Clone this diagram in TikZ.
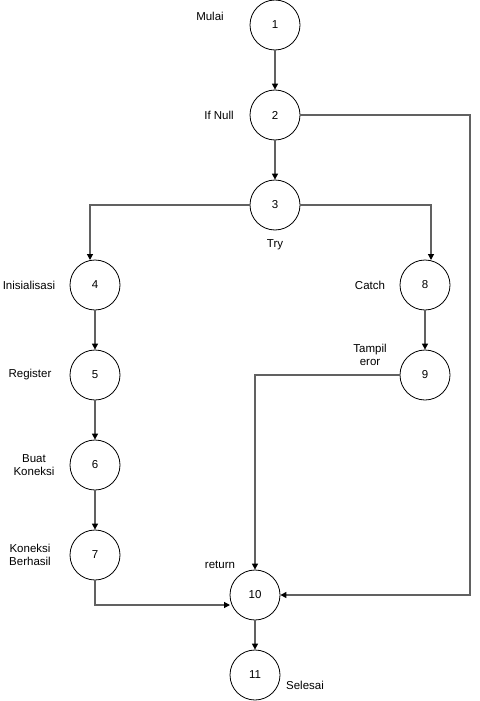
\documentclass[tikz,border=0pt]{standalone}
\usepackage{fontspec}
\setmainfont{Liberation Sans}
\usetikzlibrary{arrows.meta}
\begin{document}
\begin{tikzpicture}[x=1pt,y=-1pt,
  every node/.style={font=\fontsize{11.5}{13.5}\selectfont},
  vert/.style={circle,draw=black,line width=0.8pt,minimum size=50pt,inner sep=0pt,fill=white},
  lbl/.style={align=center,inner sep=0pt},
  edge/.style={draw=black!62,line width=1.2pt,-{Triangle[length=6pt,width=6pt,color=black]}}]
\useasboundingbox (0,0) rectangle (479,701);
\node[vert] (n1) at (275,25) {1};
\node[vert] (n2) at (275,115) {2};
\node[vert] (n3) at (275,205) {3};
\node[vert] (n4) at (95,285) {4};
\node[vert] (n5) at (95,375) {5};
\node[vert] (n6) at (95,465) {6};
\node[vert] (n7) at (95,555) {7};
\node[vert] (n8) at (425,285) {8};
\node[vert] (n9) at (425,375) {9};
\node[vert] (n10) at (255,595) {10};
\node[vert] (n11) at (255,675) {11};
\node[lbl] (l1) at (210,16) {Mulai};
\node[lbl] (l2) at (219,115) {If Null};
\node[lbl] (l3) at (275,245) {Try};
\node[lbl] (l4) at (29,285) {Inisialisasi};
\node[lbl] (l8) at (370,285) {Catch};
\node[lbl] (l5) at (30,375) {Register};
\node[lbl] (l9) at (370,355) {Tampil\\eror};
\node[lbl] (l6) at (34,465) {Buat\\Koneksi};
\node[lbl] (l7) at (30,555) {Koneksi\\Berhasil};
\node[lbl] (l10) at (220,565) {return};
\node[lbl] (l11) at (305,685) {Selesai};
\coordinate (c4) at (90,260);
\coordinate (c8) at (431,260);
\draw[edge] (n1) -- (n2);
\draw[edge] (n2) -- (n3);
\draw[edge] (n3.west) -| (c4);
\draw[edge] (n3.east) -| (c8);
\draw[edge] (n4) -- (n5);
\draw[edge] (n5) -- (n6);
\draw[edge] (n6) -- (n7);
\draw[edge] (n8) -- (n9);
\draw[edge] (n9.west) -| (n10.north);
\draw[edge] (n2.east) -- (470,115) |- (n10.east);
\draw[edge] (n7.south) |- (230,605);
\draw[edge] (n10) -- (n11);
\end{tikzpicture}
\end{document}
